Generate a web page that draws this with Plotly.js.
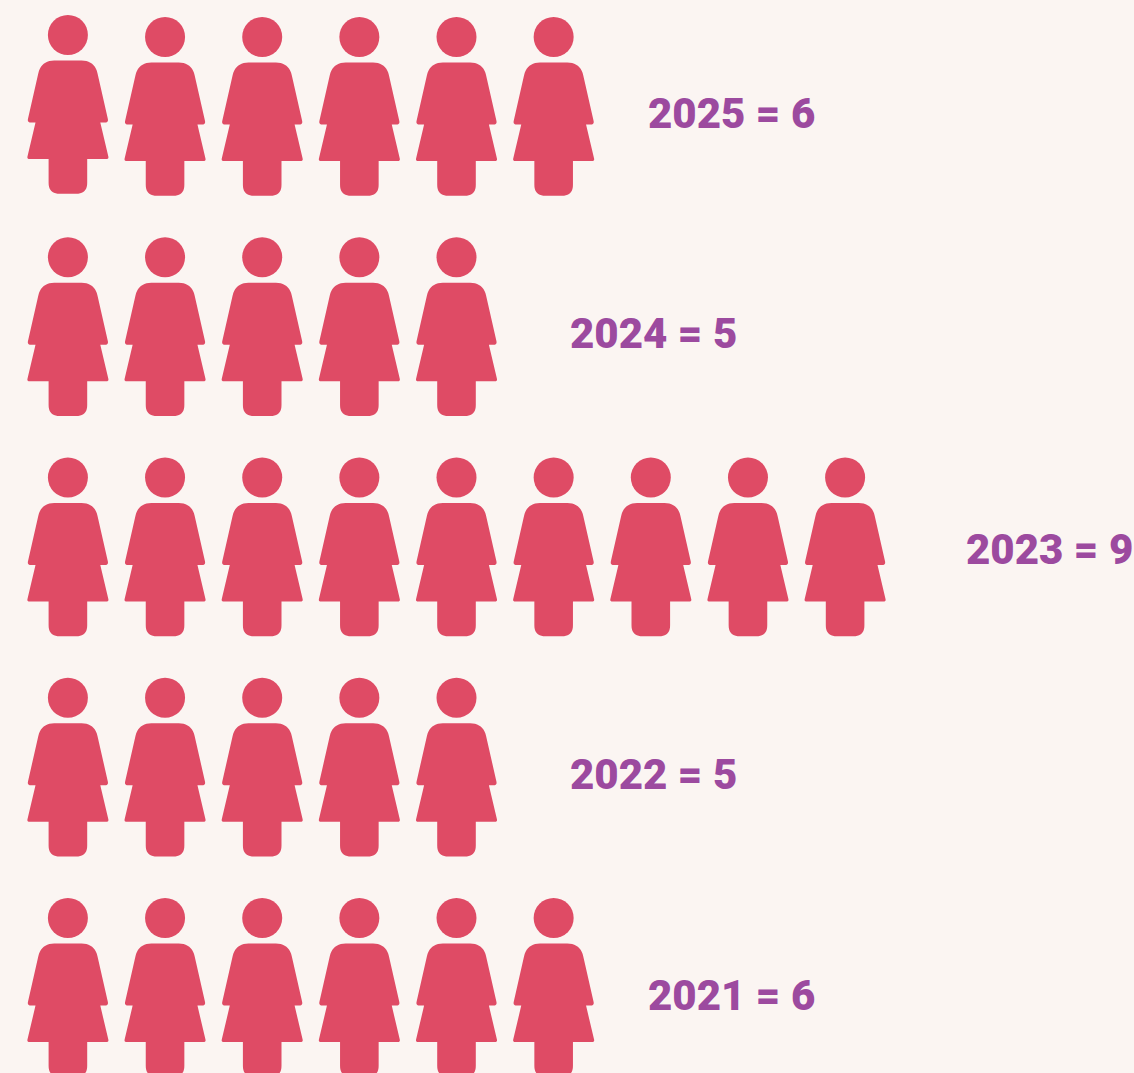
<!DOCTYPE html>
<html>
<head>
<meta charset="utf-8">
<script src="https://cdn.plot.ly/plotly-3.0.1.min.js"></script>
<style>html,body{margin:0;padding:0;background:#FBF5F2;overflow:hidden}</style>
</head>
<body>
<div id="chart" style="width:1134px;height:1073px"></div>
<script>
// Data
const years = [2025, 2024, 2023, 2022, 2021];
const counts = [6, 5, 9, 5, 6];

// Palette and type
const figureColor = '#DF4B65';
const labelColor = '#9C4A9F';
const paper = '#FBF5F2';
const labelFont = 'Roboto, sans-serif';
const labelSize = 42;

// Layout of the pictogram on a 1134 x 1073 canvas
const W = 1134, H = 1073;
const colStep = 97.15, firstCol = 67.9;    // px per figure, px of the first figure
const rowStep = 220.25, lastRowHead = 918; // px per year, head centre of 2021
const labelLeft = {2025: 648, 2024: 570, 2023: 966, 2022: 570, 2021: 648};
const labelMid  = {2025: 117, 2024: 337, 2023: 553, 2022: 778, 2021: 999};

// Axis ranges chosen so one x unit = one figure and one y unit = one year
const xRange = [-firstCol / colStep, (W - firstCol) / colStep];
const yRange = [2021 - (H - lastRowHead) / rowStep, 2021 + lastRowHead / rowStep];
const pxX = d => d / colStep;
const pxY = d => -d / rowStep;

// Figure outline, right half: [dx, dy, corner cut] in px from the head centre
const halfOutline = [
  [26.7, 25.6, 13],
  [40.8, 87.6, 4],
  [32.4, 87.6, 0],
  [41, 124, 2.5],
  [19.3, 124, 0],
  [19.3, 158.8, 11]
];
const headSize = 40;

function roundedOutline() {
  const v = halfOutline.slice();
  for (let i = halfOutline.length - 1; i >= 0; i--) {
    const p = halfOutline[i];
    v.push([-p[0], p[1], p[2]]);
  }
  const out = [];
  for (let i = 0; i < v.length; i++) {
    const p = v[i], a = v[(i - 1 + v.length) % v.length], b = v[(i + 1) % v.length];
    const c = p[2];
    if (!c) { out.push([p[0], p[1]]); continue; }
    const la = Math.hypot(a[0] - p[0], a[1] - p[1]), lb = Math.hypot(b[0] - p[0], b[1] - p[1]);
    const s = [p[0] + (a[0] - p[0]) * c / la, p[1] + (a[1] - p[1]) * c / la];
    const e = [p[0] + (b[0] - p[0]) * c / lb, p[1] + (b[1] - p[1]) * c / lb];
    for (let k = 0; k <= 10; k++) {
      const t = k / 10, u = 1 - t;
      out.push([u * u * s[0] + 2 * u * t * p[0] + t * t * e[0],
                u * u * s[1] + 2 * u * t * p[1] + t * t * e[1]]);
    }
  }
  out.push(out[0]);
  return out;
}
const bodyOutline = roundedOutline();

const traces = [];
years.forEach((year, r) => {
  const xs = [], ys = [], hx = [], hy = [];
  for (let i = 0; i < counts[r]; i++) {
    // the very first figure of the top row sits slightly higher in the source
    const nudge = (r === 0 && i === 0) ? -2 : 0;
    bodyOutline.forEach(p => {
      xs.push(i + pxX(p[0]));
      ys.push(year + pxY(p[1] + nudge));
    });
    xs.push(null); ys.push(null);
    hx.push(i); hy.push(year + pxY(nudge));
  }
  traces.push({
    type: 'scatter', mode: 'lines', x: xs, y: ys, name: year + ' bodies',
    fill: 'toself', fillcolor: figureColor,
    line: {color: figureColor, width: 0, simplify: false},
    hoverinfo: 'skip', showlegend: false
  });
  traces.push({
    type: 'scatter', mode: 'markers', x: hx, y: hy, name: year + ' heads',
    marker: {symbol: 'circle', size: headSize, color: figureColor, line: {width: 0}},
    hoverinfo: 'skip', showlegend: false
  });
});

traces.push({
  type: 'scatter', mode: 'text',
  x: years.map(y => (labelLeft[y] - firstCol) / colStep),
  y: years.map(y => 2021 + (lastRowHead - labelMid[y]) / rowStep),
  text: years.map((y, r) => y + ' = ' + counts[r]),
  textposition: 'middle right',
  textfont: {family: labelFont, size: labelSize, color: labelColor, weight: 900},
  hoverinfo: 'skip', showlegend: false, cliponaxis: false
});

const hidden = {visible: false, fixedrange: true};
Plotly.newPlot('chart', traces, {
  width: W, height: H,
  margin: {l: 0, r: 0, t: 0, b: 0, pad: 0},
  paper_bgcolor: paper, plot_bgcolor: paper,
  xaxis: Object.assign({range: xRange}, hidden),
  yaxis: Object.assign({range: yRange}, hidden),
  showlegend: false
}, {displayModeBar: false, staticPlot: true});
</script>
</body>
</html>
